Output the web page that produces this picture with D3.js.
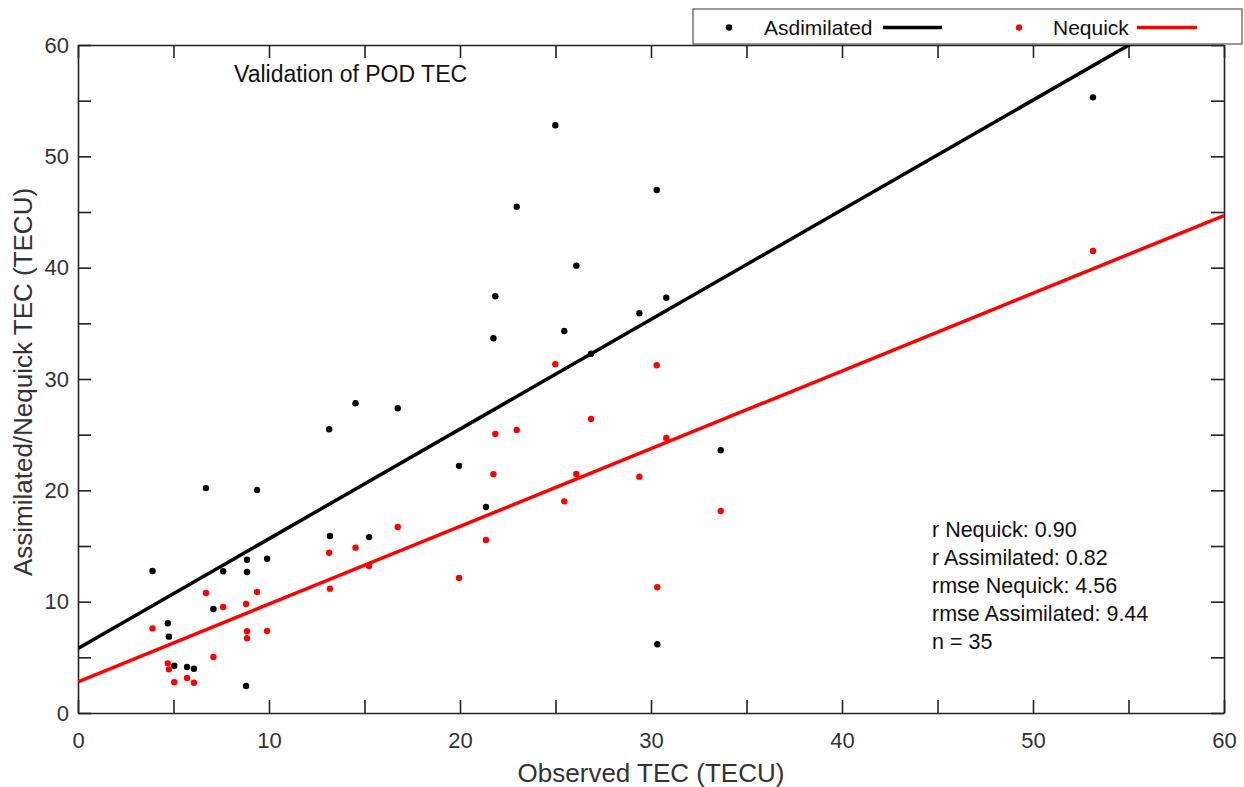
<!DOCTYPE html>
<html>
<head>
<meta charset="utf-8">
<script src="https://cdn.jsdelivr.net/npm/d3@7"></script>
<style>
  body { margin: 0; background: #fff; }
  svg { display: block; font-family: "Liberation Sans", Arial, sans-serif; }
</style>
</head>
<body>
<svg id="chart" width="1244" height="787"></svg>
<script>
// observed TEC (x) with the two model values
var observed = [3.9, 4.7, 4.76, 5.04, 5.71, 6.07, 6.7, 7.09, 7.6, 8.8, 8.85, 8.85, 9.37, 9.9,
  13.15, 13.19, 14.53, 15.24, 16.74, 19.95, 21.36, 21.75, 21.85, 22.97, 24.99, 25.46,
  26.09, 26.86, 29.39, 30.3, 30.33, 30.8, 33.65, 53.14];
var assimilated = [12.75, 8.06, 6.86, 4.25, 4.13, 3.98, 20.2, 9.34, 12.73, 2.43, 13.77, 12.67, 20.03, 13.86,
  25.48, 15.9, 27.82, 15.8, 27.37, 22.2, 18.5, 33.66, 37.43, 45.48, 52.79, 34.31,
  40.18, 32.27, 35.9, 46.98, 6.17, 37.3, 23.6, 55.3];
var nequick = [7.6, 4.46, 3.92, 2.76, 3.14, 2.72, 10.78, 5.03, 9.52, 9.79, 7.34, 6.71, 10.87, 7.37,
  14.4, 11.17, 14.85, 13.2, 16.7, 12.13, 15.54, 21.44, 25.06, 25.42, 31.32, 19.01,
  21.47, 26.41, 21.23, 31.23, 11.29, 24.7, 18.14, 41.5];

// linear fits [intercept, slope]
var fitAssimilated = [5.8, 0.985];
var fitNequick = [2.8, 0.698];

var majorTicks = [0, 10, 20, 30, 40, 50, 60];
var minorTicks = [5, 15, 25, 35, 45, 55];
var statsLines = ['r Nequick: 0.90', 'r Assimilated: 0.82', 'rmse Nequick: 4.56', 'rmse Assimilated: 9.44', 'n = 35'];
var legendLabels = ['Asdimilated', 'Nequick'];
var seriesColors = ['#000', '#ff0000'];

;(function() {
  var svg = d3.select('#chart');
  var m = { left: 78, right: 1224, top: 45, bottom: 713 };

  var x = d3.scaleLinear().domain([0, 60]).range([m.left, m.right]);
  var y = d3.scaleLinear().domain([0, 60]).range([m.bottom, m.top]);

  var allTicks = majorTicks.concat(minorTicks);
  var tickLen = 13;
  var labelFmt = function(d) { return majorTicks.indexOf(d) >= 0 ? d : ''; };

  svg.append('defs').append('clipPath').attr('id', 'plot-clip')
    .append('rect')
    .attr('x', m.left).attr('y', m.top)
    .attr('width', m.right - m.left).attr('height', m.bottom - m.top);

  // axes: labelled bottom/left, bare ticks top/right, all pointing inward
  var axisBottom = d3.axisBottom(x).tickValues(allTicks).tickSizeInner(-tickLen).tickSizeOuter(0)
    .tickPadding(19).tickFormat(labelFmt);
  var axisLeft = d3.axisLeft(y).tickValues(allTicks).tickSizeInner(-tickLen).tickSizeOuter(0)
    .tickPadding(9).tickFormat(labelFmt);
  var axisTop = d3.axisTop(x).tickValues(allTicks).tickSizeInner(-tickLen).tickSizeOuter(0).tickFormat('');
  var axisRight = d3.axisRight(y).tickValues(allTicks).tickSizeInner(-tickLen).tickSizeOuter(0).tickFormat('');

  function styleAxis(g) {
    g.selectAll('path').attr('stroke', '#222').attr('stroke-width', 1.6);
    g.selectAll('line').attr('stroke', '#222').attr('stroke-width', 1.6);
    g.selectAll('text').attr('font-size', 22).attr('fill', '#333')
      .attr('font-family', '"Liberation Sans", Arial, sans-serif');
  }

  svg.append('g').attr('transform', 'translate(0,' + m.bottom + ')').call(axisBottom).call(styleAxis);
  svg.append('g').attr('transform', 'translate(' + m.left + ',0)').call(axisLeft).call(styleAxis);
  svg.append('g').attr('transform', 'translate(0,' + m.top + ')').call(axisTop).call(styleAxis);
  svg.append('g').attr('transform', 'translate(' + m.right + ',0)').call(axisRight).call(styleAxis);

  // fit lines
  var plot = svg.append('g').attr('clip-path', 'url(#plot-clip)');
  var fitLine = d3.line()
    .x(function(d) { return x(d[0]); })
    .y(function(d) { return y(d[1]); });

  function fitPoints(fit) {
    return [0, 60].map(function(v) { return [v, fit[0] + fit[1] * v]; });
  }

  [fitAssimilated, fitNequick].forEach(function(fit, i) {
    plot.append('path').datum(fitPoints(fit))
      .attr('d', fitLine).attr('fill', 'none')
      .attr('stroke', seriesColors[i]).attr('stroke-width', 3.5);
  });

  // points
  [assimilated, nequick].forEach(function(series, s) {
    plot.append('g').selectAll('circle').data(observed).enter().append('circle')
      .attr('cx', function(d) { return x(d); })
      .attr('cy', function(d, i) { return y(series[i]); })
      .attr('r', 3.2).attr('fill', seriesColors[s]);
  });

  // title inside plot
  svg.append('text')
    .attr('x', 234).attr('y', 82)
    .attr('font-size', 23).attr('fill', '#111')
    .text('Validation of POD TEC');

  // stats block
  svg.append('g').selectAll('text').data(statsLines).enter().append('text')
    .attr('x', 932)
    .attr('y', function(d, i) { return 537 + i * 28; })
    .attr('font-size', 21.5).attr('fill', '#111')
    .text(function(d) { return d; });

  // axis titles
  svg.append('text')
    .attr('x', 651).attr('y', 782)
    .attr('text-anchor', 'middle')
    .attr('font-size', 26).attr('fill', '#333')
    .text('Observed TEC (TECU)');

  svg.append('text')
    .attr('transform', 'translate(32,382) rotate(-90)')
    .attr('text-anchor', 'middle')
    .attr('font-size', 26).attr('fill', '#333')
    .text('Assimilated/Nequick TEC (TECU)');

  // legend
  var legend = svg.append('g');
  legend.append('rect')
    .attr('x', 693).attr('y', 9).attr('width', 549).attr('height', 35)
    .attr('fill', '#fff').attr('stroke', '#555').attr('stroke-width', 1.2);

  var legendPos = [
    { dot: 729, text: 764, line: [883, 942] },
    { dot: 1019, text: 1053, line: [1137, 1197] }
  ];
  legendPos.forEach(function(p, i) {
    legend.append('circle').attr('cx', p.dot).attr('cy', 27.5).attr('r', 3.2).attr('fill', seriesColors[i]);
    legend.append('text').attr('x', p.text).attr('y', 35)
      .attr('font-size', 21).attr('fill', '#111').text(legendLabels[i]);
    legend.append('line')
      .attr('x1', p.line[0]).attr('x2', p.line[1]).attr('y1', 27.5).attr('y2', 27.5)
      .attr('stroke', seriesColors[i]).attr('stroke-width', 3.5);
  });
})();
</script>
</body>
</html>
